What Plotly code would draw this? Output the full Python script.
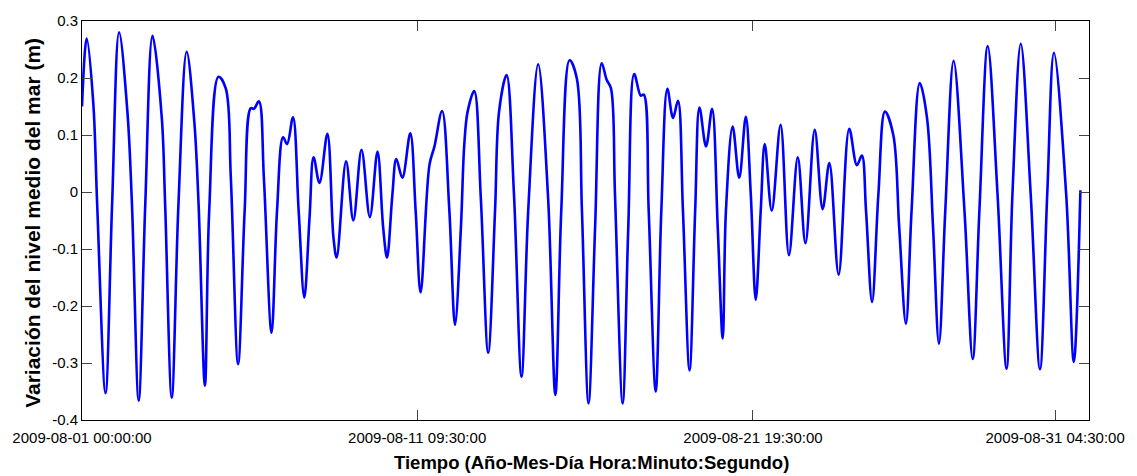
import pandas as pd
import plotly.graph_objects as go

# Hours since 2009-08-01 00:00:00 and sea-level variation (m)
hours = [
    0, 3.5, 8.4, 11.3, 17.5, 22.4, 27.6, 33.8, 37.2, 42.2, 47.1, 52.5, 59.4, 61.9,
    66.8, 71.8, 77.9, 83.6, 86.8, 91.5, 94.7, 101.6, 107.0, 110.8, 116.2, 121.1,
    125.6, 128.0, 131.7, 135.4, 141.1, 145.2, 149.7, 152.7, 157.1, 161.3, 165.5,
    169.4, 172.4, 176.8, 182.7, 187.2, 189.6, 196.6, 202.0, 208.1, 214.3, 220.0,
    224.2, 227.1, 231.1, 234.0, 238.5, 244.4, 248.4, 252.1, 258.7, 262.4, 268.1,
    273.5, 277.7, 282.1, 284.6, 287.1, 292.0, 296.9, 302.4, 307.5, 310.5, 316.1,
    321.6, 327.2, 332.2, 339.6, 347.0, 352.4, 356.8, 363.0, 368.4, 372.2, 377.1,
    382.0, 386.9, 390.6, 393.8, 396.8, 402.5, 406.7, 411.1, 416.0, 418.2, 421.9,
    427.1, 431.3, 435.8, 440.0, 443.7, 447.4, 452.3, 456.5, 459.7, 464.6, 469.1,
    473.3, 477.0, 479.4, 484.4, 489.3, 494.2, 497.9, 501.6, 505.3, 508.3, 513.5,
    520.1, 526.3, 532.9, 538.6, 545.5, 551.4, 556.4, 563.3, 571.2, 576.9, 580.6,
    583.7, 588.2, 592.9, 597.8, 604.0, 608.4, 613.4, 617.6, 623.7, 629.1, 633.6,
    638.0, 642.7, 648.9, 657.0, 663.1, 668.1, 674.3, 681.6, 688.3, 692.7, 698.9,
    706.3, 713.2, 718.6, 723.6, 732.7, 738.4, 743.3,
]
level = [
    0.150, 0.269, 0.156, -0.022, -0.353, -0.022, 0.280, 0.141, -0.022, -0.366, -0.022, 0.274, 0.130, -0.022,
    -0.361, -0.022, 0.246, 0.124, -0.022, -0.340, -0.033, 0.202, 0.182, 0.025, -0.302, -0.033,
    0.147, 0.146, 0.159, 0.025, -0.247, -0.033, 0.096, 0.084, 0.131, -0.033, -0.185,
    -0.045, 0.061, 0.016, 0.102, -0.080, -0.115, 0.054, -0.050, 0.074, -0.044, 0.071,
    -0.062, -0.115, -0.004, 0.058, 0.025, 0.103, -0.033, -0.176, 0.048, 0.080, 0.142,
    -0.033, -0.233, -0.062, 0.083, 0.141, 0.177, -0.010, -0.282, -0.033, 0.141, 0.205,
    -0.004, -0.324, -0.033, 0.224, -0.010, -0.356, -0.033, 0.231, 0.199, -0.033, -0.371,
    -0.062, 0.226, 0.197, 0.182, -0.004, -0.371, -0.062, 0.207, 0.169, 0.171, -0.033,
    -0.350, -0.033, 0.181, 0.130, 0.160, -0.033, -0.313, -0.033, 0.148, 0.080, 0.146,
    -0.062, -0.257, -0.033, 0.115, 0.025, 0.132, -0.004, -0.189, -0.033, 0.084, -0.033,
    0.118, -0.111, 0.061, -0.090, 0.109, -0.030, 0.051, -0.145, 0.111, 0.047, 0.064,
    -0.033, -0.193, -0.004, 0.141, 0.100, -0.062, -0.231, -0.033, 0.191, 0.130, -0.062,
    -0.266, -0.033, 0.230, -0.033, -0.293, -0.033, 0.256, -0.004, -0.310, -0.004, 0.260,
    -0.004, -0.311, -0.004, 0.244, -0.004, -0.298, 0.003,
]

start = pd.Timestamp("2009-08-01 00:00:00")
times = start + pd.to_timedelta(hours, unit="h")

x_tick_vals = ["2009-08-01 00:00:00", "2009-08-11 09:30:00", "2009-08-21 19:30:00", "2009-08-31 04:30:00"]
x_tick_text = x_tick_vals
y_tick_vals = [-0.4, -0.3, -0.2, -0.1, 0, 0.1, 0.2, 0.3]
y_tick_text = ["-0.4", "-0.3", "-0.2", "-0.1", "0", "0.1", "0.2", "0.3"]

x_end = start + pd.Timedelta(hours=749.7)

fig = go.Figure()
fig.add_trace(go.Scatter(
    x=times, y=level, mode="lines",
    line=dict(color="rgb(0,0,255)", width=2.6, shape="spline", smoothing=1),
    showlegend=False, hoverinfo="skip",
))

tick_font = dict(family="Liberation Sans, Arial, sans-serif", size=15, color="black")
fig.update_layout(
    width=1137, height=476,
    margin=dict(l=82, r=42, t=19, b=56),
    paper_bgcolor="white", plot_bgcolor="white",
    xaxis=dict(
        type="date", range=[start, x_end],
        tickmode="array", tickvals=x_tick_vals, ticktext=x_tick_text,
        ticks="inside", ticklen=10, tickcolor="#444", tickwidth=1,
        showline=True, linecolor="black", linewidth=1, mirror="ticks",
        showgrid=False, zeroline=False, tickfont=tick_font,
        ticklabelstandoff=4,
    ),
    yaxis=dict(
        range=[-0.4, 0.3],
        tickmode="array", tickvals=y_tick_vals, ticktext=y_tick_text,
        ticks="inside", ticklen=10, tickcolor="#444", tickwidth=1,
        showline=True, linecolor="black", linewidth=1, mirror="ticks",
        showgrid=False, zeroline=False, tickfont=tick_font,
    ),
    annotations=[
        dict(text="<b>Variación del nivel medio del mar (m)</b>", xref="paper", yref="paper",
             x=-0.0493, y=0.495, xanchor="center", yanchor="middle", textangle=-90,
             showarrow=False, font=dict(family="Liberation Sans, Arial, sans-serif", size=21, color="black")),
        dict(text="<b>Tiempo (Año-Mes-Día Hora:Minuto:Segundo)</b>", xref="paper", yref="paper",
             x=0.506, y=-0.106, xanchor="center", yanchor="middle",
             showarrow=False, font=dict(family="Liberation Sans, Arial, sans-serif", size=18.5, color="black")),
    ],
)

fig.write_html("out.html")
